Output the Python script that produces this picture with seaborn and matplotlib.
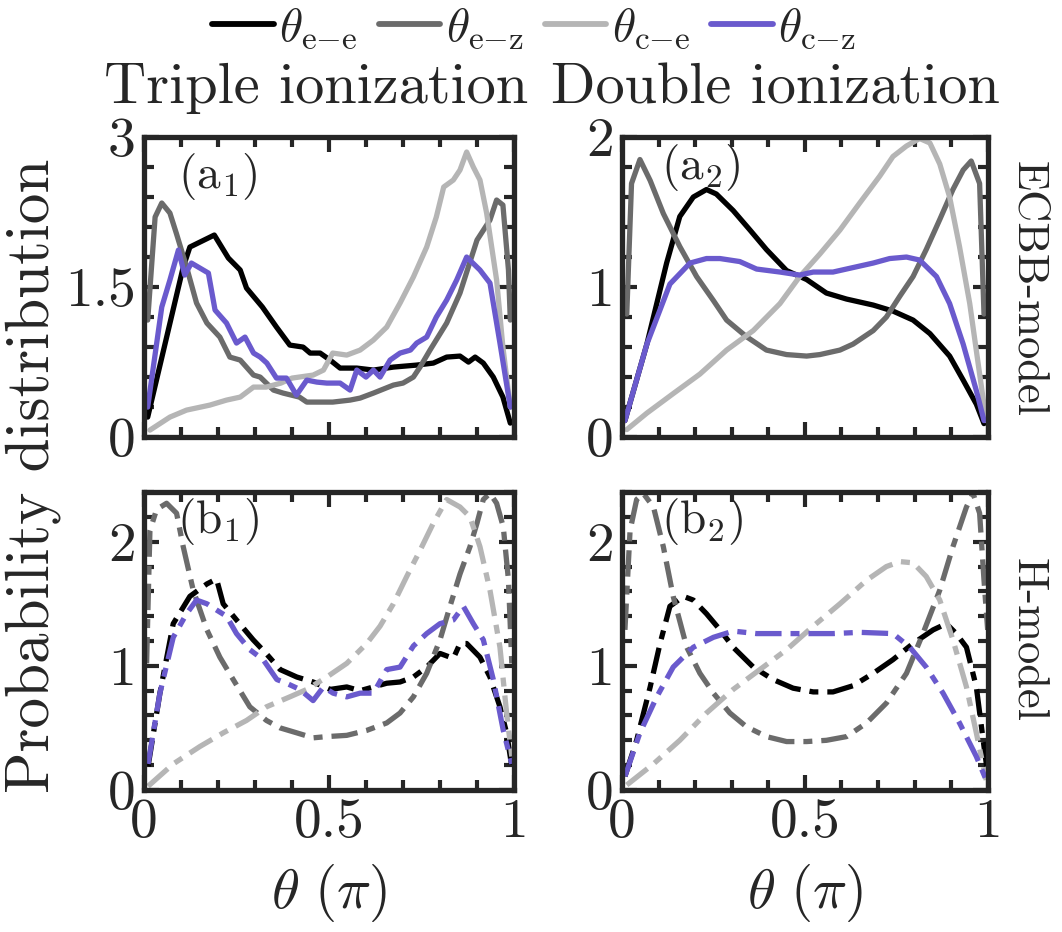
import numpy as np
import pandas as pd
import matplotlib
matplotlib.use("Agg")
import matplotlib.pyplot as plt
import seaborn as sns

# ---------------- data ----------------
# Panel a1 : ECBB-model, triple ionization
a1_ee_x = [0.01, 0.106, 0.124, 0.19, 0.228, 0.26, 0.277, 0.32, 0.358, 0.394, 0.43, 0.449, 0.476, 0.503, 0.53, 0.575, 0.62, 0.674, 0.737, 0.782, 0.818, 0.854, 0.877, 0.895, 0.917, 0.944, 0.97, 0.99]
a1_ee_y = [0.2, 1.70, 1.90, 2.02, 1.79, 1.67, 1.49, 1.30, 1.10, 0.92, 0.90, 0.84, 0.84, 0.77, 0.69, 0.69, 0.67, 0.70, 0.72, 0.74, 0.80, 0.81, 0.75, 0.80, 0.74, 0.60, 0.40, 0.14]
a1_ez_x = [0.01, 0.03, 0.048, 0.07, 0.088, 0.115, 0.142, 0.17, 0.205, 0.232, 0.26, 0.296, 0.314, 0.35, 0.376, 0.42, 0.44, 0.476, 0.51, 0.557, 0.584, 0.62, 0.674, 0.70, 0.728, 0.746, 0.773, 0.818, 0.854, 0.88, 0.90, 0.935, 0.953, 0.97, 0.985, 0.99]
a1_ez_y = [1.17, 2.20, 2.34, 2.24, 2.03, 1.70, 1.34, 1.14, 1.00, 0.80, 0.77, 0.62, 0.60, 0.47, 0.44, 0.40, 0.35, 0.35, 0.35, 0.37, 0.39, 0.44, 0.52, 0.54, 0.60, 0.70, 0.87, 1.14, 1.44, 1.74, 1.97, 2.17, 2.37, 2.32, 1.67, 1.17]
a1_ce_x = [0.016, 0.07, 0.115, 0.178, 0.223, 0.26, 0.296, 0.33, 0.37, 0.40, 0.457, 0.485, 0.51, 0.548, 0.584, 0.62, 0.656, 0.692, 0.728, 0.764, 0.79, 0.81, 0.836, 0.854, 0.872, 0.89, 0.908, 0.926, 0.953, 0.97, 0.99]
a1_ce_y = [0.07, 0.20, 0.27, 0.32, 0.37, 0.40, 0.50, 0.50, 0.54, 0.59, 0.62, 0.67, 0.84, 0.82, 0.87, 0.97, 1.10, 1.34, 1.60, 1.90, 2.20, 2.50, 2.57, 2.67, 2.85, 2.70, 2.57, 2.24, 1.57, 0.90, 0.30]
a1_cz_x = [0.01, 0.048, 0.07, 0.093, 0.11, 0.128, 0.174, 0.192, 0.223, 0.25, 0.273, 0.296, 0.314, 0.332, 0.358, 0.385, 0.412, 0.44, 0.467, 0.494, 0.53, 0.557, 0.575, 0.60, 0.62, 0.638, 0.665, 0.692, 0.72, 0.737, 0.764, 0.79, 0.818, 0.845, 0.872, 0.908, 0.935, 0.962, 0.99]
a1_cz_y = [0.30, 1.30, 1.57, 1.87, 1.62, 1.74, 1.64, 1.27, 1.14, 0.94, 1.00, 0.84, 0.80, 0.74, 0.59, 0.59, 0.42, 0.57, 0.55, 0.54, 0.54, 0.47, 0.67, 0.60, 0.67, 0.60, 0.77, 0.84, 0.87, 0.94, 1.00, 1.20, 1.37, 1.57, 1.80, 1.67, 1.54, 0.94, 0.30]

# Panel a2 : ECBB-model, double ionization
a2_ee_x = [0.008, 0.068, 0.122, 0.158, 0.195, 0.231, 0.258, 0.304, 0.35, 0.395, 0.45, 0.505, 0.559, 0.614, 0.687, 0.741, 0.796, 0.842, 0.896, 0.933, 0.969, 0.99]
a2_ee_y = [0.11, 0.62, 1.16, 1.47, 1.60, 1.65, 1.62, 1.51, 1.38, 1.25, 1.11, 1.05, 0.96, 0.92, 0.88, 0.84, 0.78, 0.69, 0.54, 0.38, 0.22, 0.09]
a2_ez_x = [0.013, 0.026, 0.049, 0.077, 0.113, 0.158, 0.204, 0.25, 0.286, 0.34, 0.395, 0.45, 0.505, 0.541, 0.596, 0.632, 0.687, 0.723, 0.76, 0.796, 0.832, 0.869, 0.905, 0.933, 0.955, 0.978, 0.99]
a2_ez_y = [0.82, 1.69, 1.85, 1.71, 1.49, 1.27, 1.07, 0.91, 0.78, 0.67, 0.58, 0.55, 0.54, 0.55, 0.58, 0.62, 0.71, 0.80, 0.94, 1.07, 1.25, 1.45, 1.65, 1.78, 1.84, 1.69, 0.82]
a2_ce_x = [0.013, 0.068, 0.14, 0.213, 0.286, 0.359, 0.432, 0.486, 0.541, 0.596, 0.65, 0.705, 0.741, 0.778, 0.814, 0.842, 0.869, 0.896, 0.923, 0.951, 0.974, 0.996]
a2_ce_y = [0.05, 0.16, 0.29, 0.42, 0.58, 0.71, 0.89, 1.07, 1.22, 1.38, 1.56, 1.74, 1.87, 1.94, 1.99, 1.96, 1.82, 1.60, 1.27, 0.89, 0.49, 0.11]
a2_cz_x = [0.008, 0.068, 0.131, 0.186, 0.231, 0.268, 0.322, 0.368, 0.432, 0.486, 0.523, 0.577, 0.632, 0.687, 0.732, 0.778, 0.814, 0.86, 0.896, 0.933, 0.969, 0.99]
a2_cz_y = [0.11, 0.62, 1.02, 1.16, 1.19, 1.19, 1.17, 1.12, 1.10, 1.08, 1.10, 1.10, 1.13, 1.16, 1.19, 1.20, 1.18, 1.07, 0.89, 0.62, 0.31, 0.11]

# Panel b1 : H-model, triple ionization
b1_ee_x = [0.011, 0.043, 0.079, 0.124, 0.17, 0.196, 0.214, 0.25, 0.295, 0.33, 0.368, 0.413, 0.457, 0.503, 0.548, 0.584, 0.62, 0.656, 0.692, 0.728, 0.764, 0.80, 0.836, 0.854, 0.872, 0.908, 0.935, 0.962, 0.98, 0.994]
b1_ee_y = [0.19, 0.78, 1.34, 1.56, 1.66, 1.70, 1.50, 1.37, 1.21, 1.10, 0.97, 0.91, 0.87, 0.81, 0.83, 0.80, 0.83, 0.86, 0.87, 0.91, 0.99, 1.10, 1.06, 1.18, 1.18, 1.07, 0.91, 0.67, 0.46, 0.19]
b1_ez_x = [0.007, 0.016, 0.034, 0.061, 0.088, 0.106, 0.133, 0.17, 0.205, 0.241, 0.286, 0.331, 0.368, 0.413, 0.457, 0.494, 0.548, 0.602, 0.656, 0.692, 0.728, 0.764, 0.80, 0.827, 0.854, 0.881, 0.90, 0.917, 0.935, 0.953, 0.971, 0.985, 0.994]
b1_ez_y = [1.02, 2.09, 2.26, 2.31, 2.23, 1.96, 1.61, 1.29, 1.07, 0.89, 0.67, 0.56, 0.50, 0.46, 0.42, 0.43, 0.44, 0.48, 0.54, 0.62, 0.75, 0.94, 1.21, 1.48, 1.74, 1.96, 2.15, 2.34, 2.39, 2.31, 2.12, 1.69, 1.02]
b1_ce_x = [0.011, 0.079, 0.151, 0.214, 0.277, 0.331, 0.394, 0.44, 0.494, 0.548, 0.602, 0.638, 0.674, 0.71, 0.746, 0.782, 0.818, 0.854, 0.881, 0.908, 0.935, 0.962, 0.98, 0.994]
b1_ce_y = [0.03, 0.21, 0.35, 0.46, 0.56, 0.67, 0.75, 0.81, 0.91, 1.02, 1.18, 1.32, 1.50, 1.72, 1.93, 2.15, 2.34, 2.28, 2.20, 1.96, 1.61, 1.15, 0.62, 0.27]
b1_cz_x = [0.011, 0.043, 0.079, 0.115, 0.142, 0.17, 0.196, 0.223, 0.25, 0.286, 0.322, 0.359, 0.385, 0.421, 0.457, 0.485, 0.511, 0.548, 0.584, 0.62, 0.656, 0.692, 0.728, 0.764, 0.80, 0.836, 0.863, 0.89, 0.917, 0.944, 0.971, 0.994]
b1_cz_y = [0.21, 0.78, 1.23, 1.42, 1.53, 1.50, 1.45, 1.40, 1.26, 1.13, 1.05, 0.89, 0.86, 0.81, 0.72, 0.83, 0.78, 0.75, 0.78, 0.78, 0.97, 0.99, 1.16, 1.26, 1.34, 1.37, 1.48, 1.34, 1.21, 0.89, 0.48, 0.21]

# Panel b2 : H-model, double ionization
b2_ee_x = [0.008, 0.04, 0.077, 0.104, 0.131, 0.168, 0.195, 0.231, 0.268, 0.304, 0.359, 0.413, 0.468, 0.523, 0.577, 0.632, 0.687, 0.741, 0.796, 0.851, 0.887, 0.914, 0.942, 0.969, 0.99, 1.0]
b2_ee_y = [0.11, 0.40, 0.83, 1.18, 1.48, 1.56, 1.53, 1.42, 1.29, 1.15, 0.99, 0.89, 0.82, 0.79, 0.79, 0.84, 0.94, 1.05, 1.18, 1.29, 1.34, 1.26, 1.15, 0.83, 0.35, 0.13]
b2_ez_x = [0.008, 0.022, 0.04, 0.058, 0.086, 0.113, 0.14, 0.177, 0.213, 0.25, 0.295, 0.34, 0.395, 0.45, 0.505, 0.559, 0.614, 0.669, 0.723, 0.778, 0.823, 0.869, 0.905, 0.942, 0.96, 0.978, 0.99, 1.0]
b2_ez_y = [1.29, 2.09, 2.34, 2.39, 2.28, 1.96, 1.56, 1.15, 0.94, 0.78, 0.62, 0.51, 0.43, 0.39, 0.39, 0.40, 0.43, 0.54, 0.70, 0.94, 1.26, 1.61, 1.96, 2.28, 2.39, 2.23, 1.69, 1.29]
b2_ce_x = [0.013, 0.086, 0.158, 0.231, 0.304, 0.377, 0.45, 0.523, 0.596, 0.669, 0.723, 0.76, 0.796, 0.832, 0.869, 0.905, 0.942, 0.969, 0.996]
b2_ce_y = [0.04, 0.21, 0.40, 0.62, 0.81, 0.97, 1.13, 1.32, 1.50, 1.69, 1.80, 1.84, 1.83, 1.72, 1.53, 1.21, 0.83, 0.46, 0.08]
b2_cz_x = [0.008, 0.049, 0.095, 0.14, 0.195, 0.25, 0.304, 0.368, 0.432, 0.505, 0.577, 0.65, 0.741, 0.787, 0.832, 0.878, 0.923, 0.969, 0.996]
b2_cz_y = [0.11, 0.46, 0.75, 0.99, 1.15, 1.23, 1.28, 1.26, 1.26, 1.26, 1.26, 1.27, 1.26, 1.15, 0.99, 0.78, 0.54, 0.27, 0.08]

series_labels = [r"$\theta_{\mathrm{e}{-}\mathrm{e}}$", r"$\theta_{\mathrm{e}{-}\mathrm{z}}$",
                 r"$\theta_{\mathrm{c}{-}\mathrm{e}}$", r"$\theta_{\mathrm{c}{-}\mathrm{z}}$"]
series_colors = ["#000000", "#6b6b6b", "#b5b5b5", "#6a5acd"]
panel_tags = [r"(a$_1$)", r"(a$_2$)", r"(b$_1$)", r"(b$_2$)"]
column_titles = ["Triple ionization", "Double ionization"]
row_titles = ["ECBB-model", "H-model"]

# ---------------- style ----------------
sns.set_style("ticks")
plt.rcParams.update({
    "font.family": "serif",
    "font.serif": ["cmr10"],
    "mathtext.fontset": "cm",
    "axes.formatter.use_mathtext": True,
    "axes.unicode_minus": False,
})
SPINE = "#262626"

fig = plt.figure(figsize=(10.62, 9.32), dpi=100)
L1, R1 = 0.1356, 0.484
L2, R2 = 0.5857, 0.930
BT, TT = 0.531, 0.853
BB, TB = 0.1524, 0.472
axes = [fig.add_axes([L1, BT, R1 - L1, TT - BT]),
        fig.add_axes([L2, BT, R2 - L2, TT - BT]),
        fig.add_axes([L1, BB, R1 - L1, TB - BB]),
        fig.add_axes([L2, BB, R2 - L2, TB - BB])]

panel_data = [
    [(a1_ee_x, a1_ee_y), (a1_ez_x, a1_ez_y), (a1_ce_x, a1_ce_y), (a1_cz_x, a1_cz_y)],
    [(a2_ee_x, a2_ee_y), (a2_ez_x, a2_ez_y), (a2_ce_x, a2_ce_y), (a2_cz_x, a2_cz_y)],
    [(b1_ee_x, b1_ee_y), (b1_ez_x, b1_ez_y), (b1_ce_x, b1_ce_y), (b1_cz_x, b1_cz_y)],
    [(b2_ee_x, b2_ee_y), (b2_ez_x, b2_ez_y), (b2_ce_x, b2_ce_y), (b2_cz_x, b2_cz_y)],
]
ylims = [(0, 3), (0, 2), (0, 2.4), (0, 2.4)]
ymajor = [[0, 1.5, 3], [0, 1, 2], [0, 1, 2], [0, 1, 2]]
yminor_step = [0.3, 0.2, 0.2, 0.2]
tag_pos = [(0.2, 0.87), (0.215, 0.9), (0.2, 0.9), (0.22, 0.9)]

LW = 3.8
TICK_FS = 40
for i, ax in enumerate(axes):
    dashed = i >= 2
    for j, (xs, ys) in enumerate(panel_data[i]):
        df = pd.DataFrame({"theta": xs, "P": ys})
        sns.lineplot(data=df, x="theta", y="P", ax=ax, color=series_colors[j],
                     lw=LW, sort=False, estimator=None, legend=False)
        if dashed:
            ax.lines[-1].set_dashes([5.0, 1.7, 1.7, 1.7])
    ax.set_xlim(0, 1)
    ax.set_ylim(*ylims[i])
    ax.set_xticks([0, 0.5, 1])
    ax.set_xticks(np.arange(0, 1.0001, 0.1), minor=True)
    ax.set_yticks(ymajor[i])
    ax.set_yticks(np.arange(0, ylims[i][1] + 1e-6, yminor_step[i]), minor=True)
    ax.set_yticklabels([f"{v:g}" for v in ymajor[i]])
    ax.tick_params(which="both", direction="in", top=True, right=True,
                   width=3.0, color=SPINE, labelsize=TICK_FS, labelcolor="#262626")
    ax.tick_params(which="major", length=11, pad=6)
    ax.tick_params(which="minor", length=7)
    for s in ax.spines.values():
        s.set_linewidth(3.8)
        s.set_color(SPINE)
    ax.set_ylabel("")
    if i >= 2:
        ax.set_xlabel(r"$\theta\ (\pi)$", fontsize=41, labelpad=10, color="#262626")
        ax.set_xticklabels(["0", "0.5", "1"])
    else:
        ax.set_xlabel("")
        ax.set_xticklabels([])
    ax.text(tag_pos[i][0], tag_pos[i][1], panel_tags[i], transform=ax.transAxes,
            ha="center", va="center", fontsize=34)

handles = [plt.Line2D([], [], color=c, lw=4.2) for c in series_colors]
fig.legend(handles, series_labels, loc="center", bbox_to_anchor=(0.503, 0.97),
           ncol=4, frameon=False, fontsize=34, handlelength=1.3,
           handletextpad=0.12, columnspacing=0.45, borderaxespad=0)

fig.text(0.298, 0.905, column_titles[0], ha="center", va="center", fontsize=42)
fig.text(0.730, 0.905, column_titles[1], ha="center", va="center", fontsize=42)
fig.text(0.031, 0.49, "Probability distribution", rotation=90,
         ha="center", va="center", fontsize=44, color="#262626")
fig.text(0.968, 0.69, row_titles[0], rotation=270, ha="center", va="center", fontsize=32)
fig.text(0.968, 0.313, row_titles[1], rotation=270, ha="center", va="center", fontsize=32)

fig.savefig("out.png", dpi=100)
